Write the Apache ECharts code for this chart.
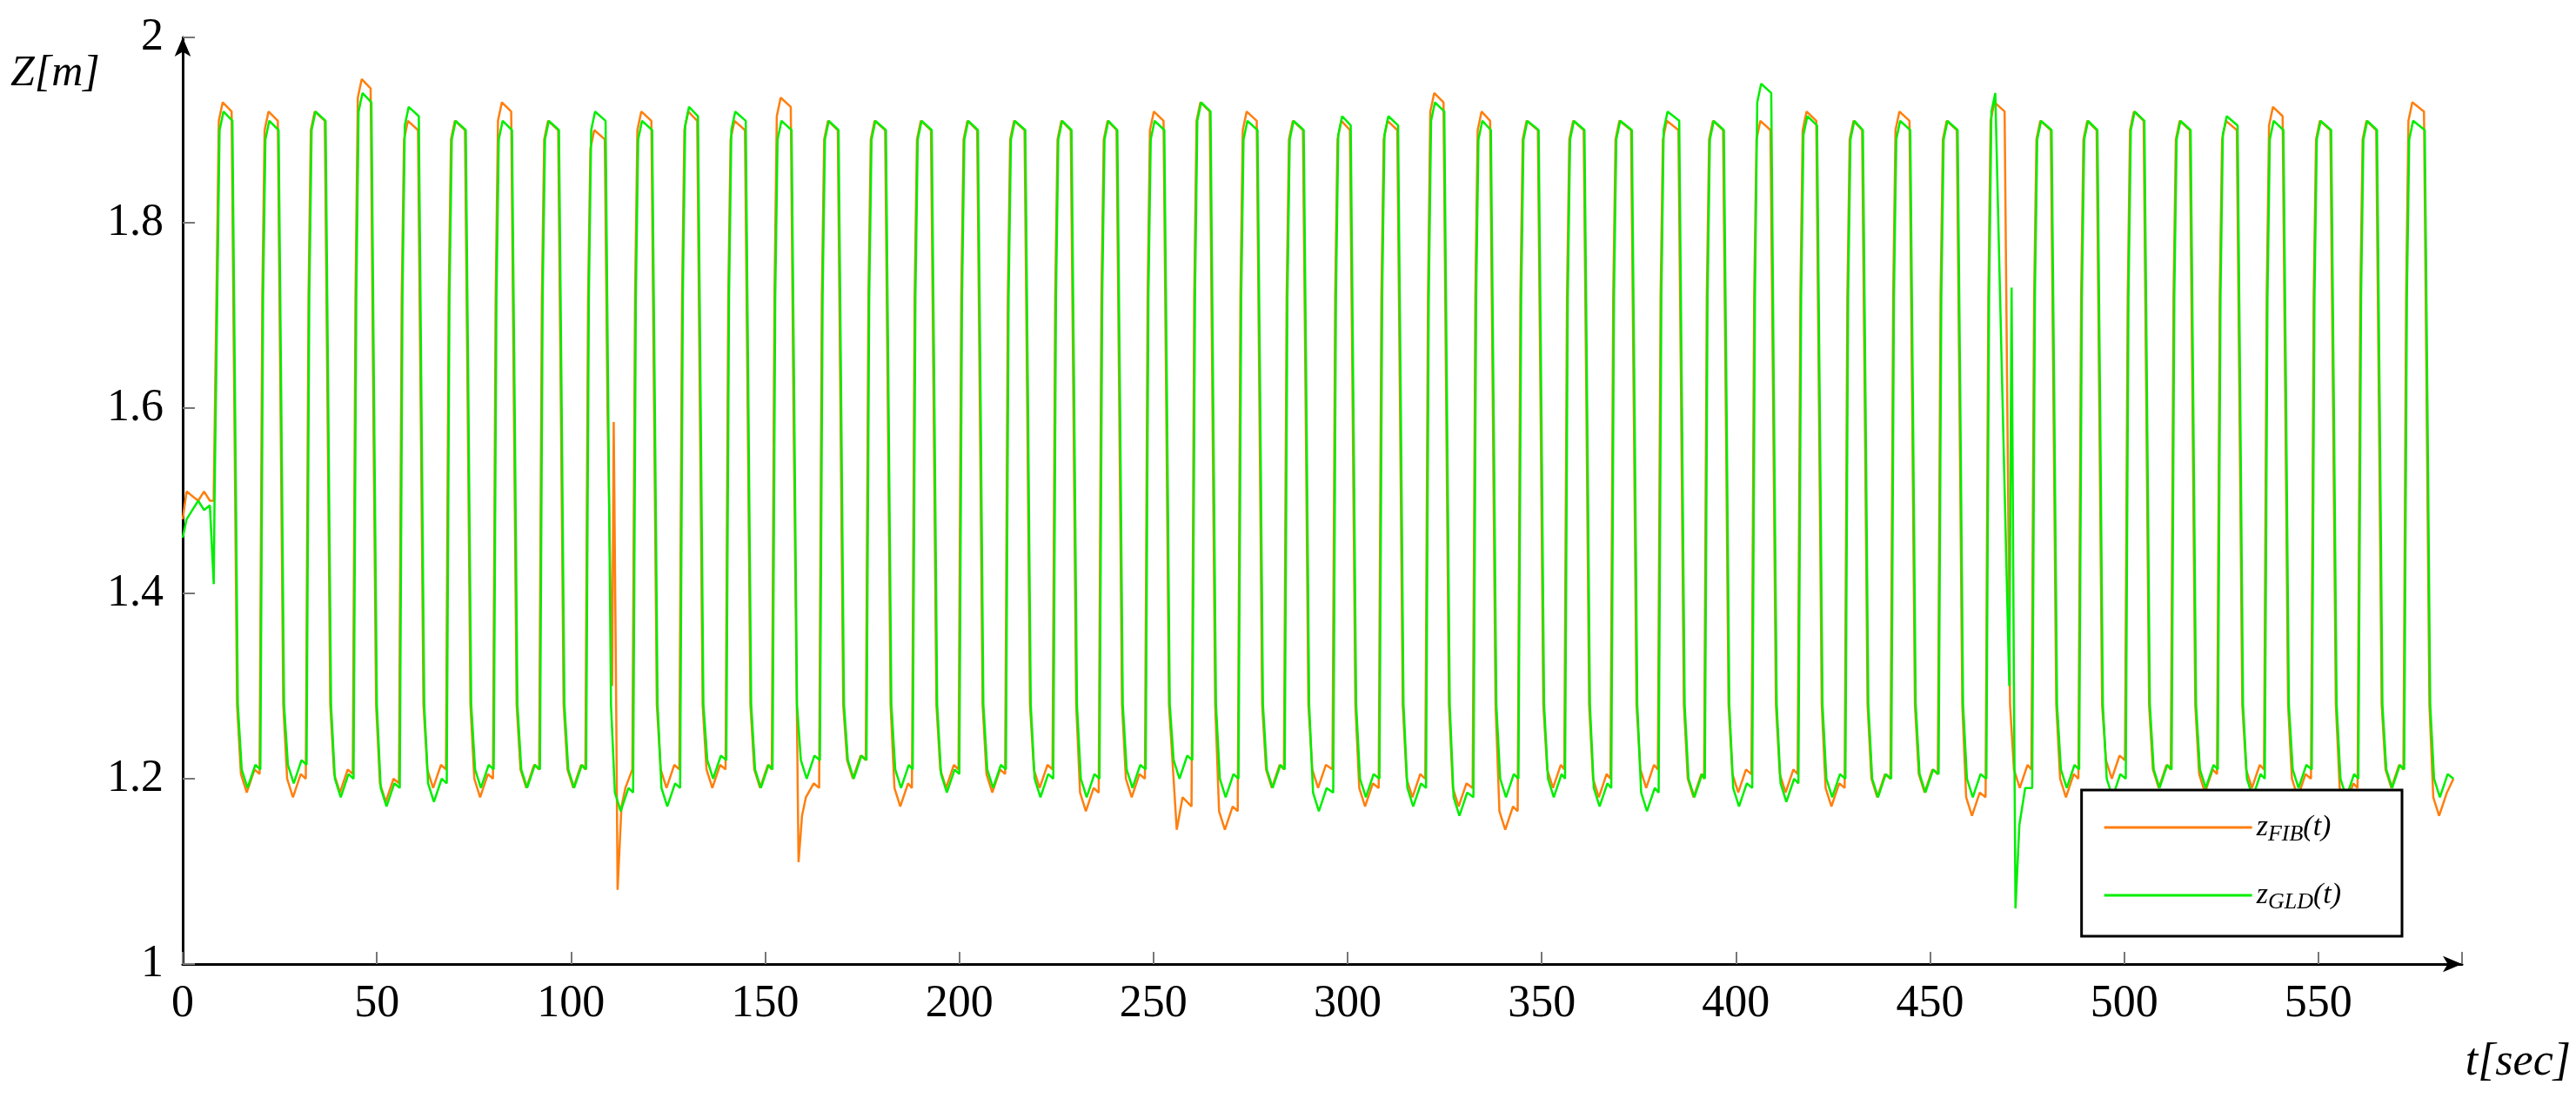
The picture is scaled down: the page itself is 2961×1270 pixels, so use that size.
<!DOCTYPE html>
<html>
<head>
<meta charset="UTF-8">
<script src="https://cdn.jsdelivr.net/npm/echarts@6/dist/echarts.min.js"></script>
<style>html,body{margin:0;background:#fff}#chart{width:2961px;height:1270px}</style>
</head>
<body>
<div id="chart"></div>
<script>
// rise / fall times (s), 48 cycles
var riseT = [8.7,20.5,32.4,44.5,56.4,68.5,80.6,92.5,104.4,116.5,128.6,140.5,152.4,164.6,176.6,188.5,
             200.5,212.5,224.7,236.6,248.5,260.5,272.4,284.3,296.8,308.7,320.7,332.9,344.5,356.5,368.4,380.6,
             392.5,404.7,416.6,428.7,440.5,452.7,465,476.8,488.9,500.9,512.7,524.6,536.7,548.8,560.8,572.6];
var fallT = [13.2,25.1,37.2,49,61.2,73.3,85.2,97.3,109.3,121.3,133.1,145.4,157.2,169.3,181.5,193.3,
             205.2,217.4,229.3,241.1,253.2,265.1,277.2,289.1,301.2,313.4,325.3,337.3,349.6,361.4,373.6,385.8,
             397.3,409.5,421.3,433.1,445.3,457.5,469.8,481.7,493.5,505.6,517.5,529.6,541.4,553.7,565.5,577.8];
var fibHigh = [1.93,1.92,1.92,1.955,1.91,1.91,1.93,1.91,1.90,1.92,1.92,1.91,1.935,1.91,1.91,1.91,
               1.91,1.91,1.91,1.91,1.92,1.93,1.92,1.91,1.91,1.91,1.94,1.92,1.91,1.91,1.91,1.91,
               1.91,1.91,1.92,1.91,1.92,1.91,1.93,1.91,1.91,1.92,1.91,1.91,1.925,1.91,1.91,1.93];
var gldHigh = [1.92,1.91,1.92,1.94,1.925,1.91,1.91,1.91,1.92,1.91,1.925,1.92,1.91,1.91,1.91,1.91,
               1.91,1.91,1.91,1.91,1.91,1.93,1.91,1.91,1.915,1.915,1.93,1.91,1.91,1.91,1.91,1.92,
               1.91,1.95,1.915,1.91,1.91,1.91,1.94,1.91,1.91,1.92,1.91,1.915,1.91,1.91,1.91,1.91];
var fibLow = [1.185,1.18,1.185,1.175,1.19,1.18,1.19,1.19,1.19,1.19,1.19,1.19,1.17,1.2,1.17,1.19,
              1.185,1.19,1.165,1.18,1.15,1.145,1.19,1.19,1.17,1.18,1.17,1.145,1.19,1.18,1.19,1.18,
              1.185,1.185,1.17,1.18,1.185,1.16,1.19,1.18,1.2,1.19,1.185,1.19,1.18,1.17,1.19,1.16];
var gldLow = [1.19,1.195,1.18,1.17,1.175,1.19,1.19,1.19,1.165,1.17,1.2,1.19,1.2,1.2,1.19,1.185,
              1.19,1.18,1.18,1.19,1.2,1.18,1.19,1.165,1.18,1.17,1.16,1.18,1.18,1.17,1.165,1.18,
              1.17,1.175,1.18,1.18,1.185,1.18,1.17,1.19,1.18,1.19,1.19,1.18,1.19,1.18,1.19,1.18];
// start segment and spikes
var fibExtra = [[0,1.48],[1,1.51],[2.5,1.505],[4,1.5],[5.5,1.51],[7,1.5],[8,1.51],
                [110.6,1.3],[111,1.585],[111.6,1.3],[112,1.08],[113,1.17],[114,1.19],
                [158.6,1.11],[159.5,1.16],[160.5,1.18],[256,1.145],[257.5,1.18],[584.8,1.2]];
var gldExtra = [[0,1.46],[1,1.48],[2.5,1.49],[4,1.5],[5.5,1.49],[7,1.495],[8,1.41],[8.3,1.5],
                [470.4,1.3],[471,1.73],[471.6,1.3],[472,1.06],[473,1.15],[474.5,1.19],[584.8,1.2]];

function buildSeries(shift, hi, lo, extra) {
  var pts = [];
  for (var i = 0; i < riseT.length; i++) {
    var r = riseT[i] + shift, f = fallT[i] + shift;
    pts.push([r - 0.5, i === 0 ? 1.5 : lo[i - 1] + 0.02]);
    pts.push([r + 0.2, 1.72]);
    pts.push([r + 0.8, hi[i] - 0.02]);
    pts.push([r + 1.8, hi[i]]);
    pts.push([f - 0.4, hi[i] - 0.01]);
    pts.push([f + 0.3, 1.6]);
    pts.push([f + 1.0, 1.28]);
    pts.push([f + 2.0, lo[i] + 0.02]);
    pts.push([f + 3.5, lo[i]]);
    pts.push([f + 5.5, lo[i] + 0.025]);
  }
  pts = pts.filter(function (p) {
    return !extra.some(function (e) { return e[0] > 100 && Math.abs(e[0] - p[0]) < 1.2; });
  });
  pts = pts.concat(extra);
  pts.sort(function (a, b) { return a[0] - b[0]; });
  return pts;
}

var fibData = buildSeries(-0.2, fibHigh, fibLow, fibExtra);
var gldData = buildSeries(0, gldHigh, gldLow, gldExtra);

var serif = 'Liberation Serif';
var chart = echarts.init(document.getElementById('chart'));
chart.setOption({
  animation: false,
  grid: { left: 210, right: 131, top: 43, bottom: 162 },
  xAxis: {
    type: 'value', min: 0, max: 587, interval: 50,
    axisLine: { lineStyle: { color: '#000', width: 3 }, symbol: ['none', 'arrow'], symbolSize: [14, 22] },
    axisTick: { lineStyle: { color: '#777', width: 2 }, length: 14, inside: true },
    axisLabel: { color: '#000', fontFamily: serif, fontSize: 52, margin: 20,
      formatter: function (v) { return v % 50 === 0 && v <= 550 ? v : ''; } },
    splitLine: { show: false }
  },
  yAxis: {
    type: 'value', min: 1, max: 2, interval: 0.2,
    axisLine: { show: true, lineStyle: { color: '#000', width: 3 }, symbol: ['none', 'arrow'], symbolSize: [14, 22] },
    axisTick: { lineStyle: { color: '#777', width: 2 }, length: 14, inside: true },
    axisLabel: { color: '#000', fontFamily: serif, fontSize: 52, margin: 22,
      formatter: function (v) { return +v.toFixed(1); } },
    splitLine: { show: false }
  },
  legend: {
    right: 200, bottom: 194, orient: 'vertical',
    backgroundColor: '#fff', borderColor: '#000', borderWidth: 3, padding: [26, 70, 26, 26],
    itemWidth: 170, itemHeight: 3, itemGap: 40, icon: 'rect',
    textStyle: { fontFamily: serif, fontSize: 34, color: '#000',
      rich: { i: { fontFamily: serif, fontStyle: 'italic', fontSize: 34 },
              s: { fontFamily: serif, fontStyle: 'italic', fontSize: 26, padding: [16, 0, 0, 0] } } },
    formatter: function (n) {
      return n === 'fib' ? '{i|z}{s|FIB}{i|(t)}' : '{i|z}{s|GLD}{i|(t)}';
    },
    data: ['fib', 'gld']
  },
  graphic: [
    { type: 'text', left: 12, top: 60, style: { text: 'Z[m]', font: 'italic 50px "' + serif + '"', fill: '#000' } },
    { type: 'text', right: 6, top: 1195, style: { text: 't[sec]', font: 'italic 52px "' + serif + '"', fill: '#000' } }
  ],
  series: [
    { name: 'fib', type: 'line', data: fibData, showSymbol: false, lineStyle: { color: '#ff7f0e', width: 2.5 }, itemStyle: { color: '#ff7f0e' } },
    { name: 'gld', type: 'line', data: gldData, showSymbol: false, lineStyle: { color: '#00ee00', width: 2.5 }, itemStyle: { color: '#00ee00' } }
  ]
});
</script>
</body>
</html>
